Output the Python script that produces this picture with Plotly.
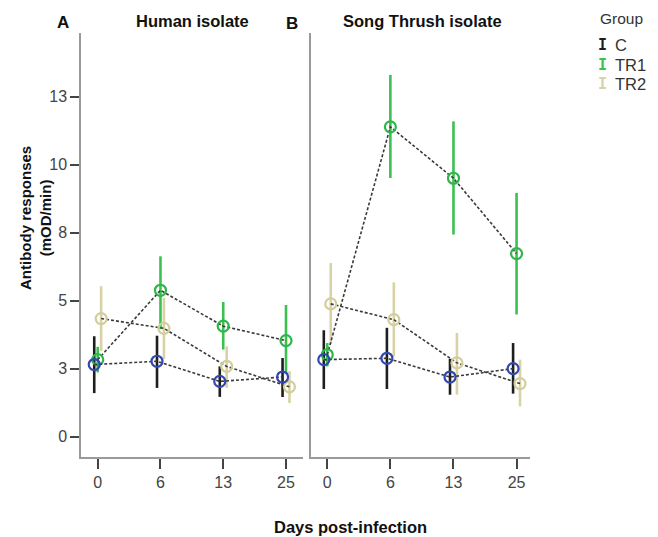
import plotly.graph_objects as go

days = ["0", "6", "13", "25"]
groups = ["C", "TR1", "TR2"]

# Human isolate (panel A): means and 95% CI bounds
human_C_mean = [2.65, 2.77, 2.03, 2.19]
human_C_upper = [3.69, 3.71, 2.58, 2.89]
human_C_lower = [1.60, 1.79, 1.46, 1.46]
human_TR1_mean = [2.83, 5.38, 4.06, 3.53]
human_TR1_upper = [3.30, 6.63, 4.95, 4.84]
human_TR1_lower = [2.36, 3.95, 3.20, 2.30]
human_TR2_mean = [4.34, 3.98, 2.58, 1.83]
human_TR2_upper = [5.53, 5.10, 3.32, 2.40]
human_TR2_lower = [3.15, 2.86, 1.79, 1.24]

# Song Thrush isolate (panel B)
thrush_C_mean = [2.83, 2.88, 2.19, 2.50]
thrush_C_upper = [3.91, 4.00, 2.86, 3.44]
thrush_C_lower = [1.75, 1.75, 1.54, 1.58]
thrush_TR1_mean = [3.01, 11.39, 9.50, 6.73]
thrush_TR1_upper = [3.44, 13.30, 11.59, 8.96]
thrush_TR1_lower = [2.58, 9.51, 7.43, 4.49]
thrush_TR2_mean = [4.88, 4.30, 2.71, 1.95]
thrush_TR2_upper = [6.38, 5.67, 3.81, 2.83]
thrush_TR2_lower = [3.40, 2.95, 1.54, 1.11]

ytick_vals = [0, 2.5, 5, 7.5, 10, 12.5]
ytick_text = ["0", "3", "5", "8", "10", "13"]

# page has an 8px body margin: figure is drawn at (8, 8)
OX, OY = 8, 8
W, H = 658 - OX, 537 - OY
FONT = "Liberation Sans, Arial, sans-serif"

marker_colors = {"C": "#3347b0", "TR1": "#2fb54a", "TR2": "#d3cd9c"}
bar_colors = {"C": "#1e1e1e", "TR1": "#3cc050", "TR2": "#d8d3a6"}
offsets = {"C": -0.055, "TR1": 0.0, "TR2": 0.055}

panels = {
    1: {"C": (human_C_mean, human_C_upper, human_C_lower),
        "TR1": (human_TR1_mean, human_TR1_upper, human_TR1_lower),
        "TR2": (human_TR2_mean, human_TR2_upper, human_TR2_lower)},
    2: {"C": (thrush_C_mean, thrush_C_upper, thrush_C_lower),
        "TR1": (thrush_TR1_mean, thrush_TR1_upper, thrush_TR1_lower),
        "TR2": (thrush_TR2_mean, thrush_TR2_upper, thrush_TR2_lower)},
}

fig = go.Figure()
for p, data in panels.items():
    xa = "x" if p == 1 else "x2"
    ya = "y" if p == 1 else "y2"
    for g in ["TR2", "TR1", "C"]:
        mean, up, lo = data[g]
        xs = [i + offsets[g] for i in range(len(days))]
        fig.add_trace(go.Scatter(
            x=xs, y=mean, xaxis=xa, yaxis=ya, mode="markers",
            showlegend=False, hoverinfo="skip",
            marker=dict(size=0.1, color="rgba(0,0,0,0)"),
            error_y=dict(type="data", symmetric=False,
                         array=[u - m for u, m in zip(up, mean)],
                         arrayminus=[m - l for m, l in zip(mean, lo)],
                         color=bar_colors[g], thickness=2.6, width=0),
        ))
    for g in ["TR2", "TR1", "C"]:
        mean, up, lo = data[g]
        xs = [i + offsets[g] for i in range(len(days))]
        fig.add_trace(go.Scatter(
            x=xs, y=mean, xaxis=xa, yaxis=ya, mode="lines+markers",
            name=g, showlegend=False,
            line=dict(color="#3a3a3a", width=1.6, dash="3px,2px"),
            marker=dict(symbol="circle-open", size=11, color=marker_colors[g],
                        line=dict(width=2.2, color=marker_colors[g])),
        ))

def px(x):
    return (x - OX) / W

def py(y):
    return 1 - (y - OY) / H

axis_common = dict(
    showline=True, linecolor="#9a9a9a", linewidth=1.5, showgrid=False,
    zeroline=False, ticks="outside", tickcolor="#444", tickwidth=1.5,
    tickfont=dict(family=FONT, size=16, color="#444"),
)
yrange = [-0.75, 14.84]
fig.update_layout(
    width=W, height=H, margin=dict(l=0, r=0, t=0, b=0),
    paper_bgcolor="white", plot_bgcolor="white",
    xaxis=dict(domain=[px(81), px(302.7)], range=[-0.266, 3.266],
               tickvals=[0, 1, 2, 3], ticktext=days, ticklen=10, **axis_common),
    xaxis2=dict(domain=[px(311), px(530)], range=[-0.258, 3.213],
                tickvals=[0, 1, 2, 3], ticktext=days, ticklen=10, **axis_common),
    yaxis=dict(domain=[py(457), py(33)], range=yrange, tickvals=ytick_vals,
               ticktext=ytick_text, ticklen=9, **axis_common),
    yaxis2=dict(domain=[py(457), py(33)], range=yrange, anchor="x2",
                showline=True, linecolor="#9a9a9a", linewidth=1.5,
                showgrid=False, zeroline=False, showticklabels=False, ticks=""),
)
fig.update_layout(xaxis2_anchor="y2")

ann = []
def text(x, y, s, size, bold=False, color="#111", xanchor="center", family=FONT, angle=0):
    ann.append(dict(x=px(x), y=py(y), xref="paper", yref="paper", text=(f"<b>{s}</b>" if bold else s),
                    showarrow=False, xanchor=xanchor, yanchor="middle", textangle=angle,
                    font=dict(family=family, size=size, color=color)))

text(192, 21, "Human isolate", 16.5, bold=True)
text(422, 21, "Song Thrush isolate", 16.5, bold=True)
text(63, 22, "A", 17, bold=True, color="#111")
text(292, 24, "B", 17, bold=True, color="#111")
text(350, 527, "Days post-infection", 16.5, bold=True)
text(35, 218, "Antibody responses<br>(mOD/min)", 15, bold=True, angle=-90)
text(598, 19, "Group", 15.5, color="#333", xanchor="left")
legend_y = {"C": 45, "TR1": 65, "TR2": 84}
for g in groups:
    text(602, legend_y[g], "<b>I</b>", 15, color=bar_colors[g], family="DejaVu Sans Mono")
    text(613, legend_y[g], g, 16.5, color="#333", xanchor="left")
fig.update_layout(annotations=ann)

fig.write_html("out.html")
